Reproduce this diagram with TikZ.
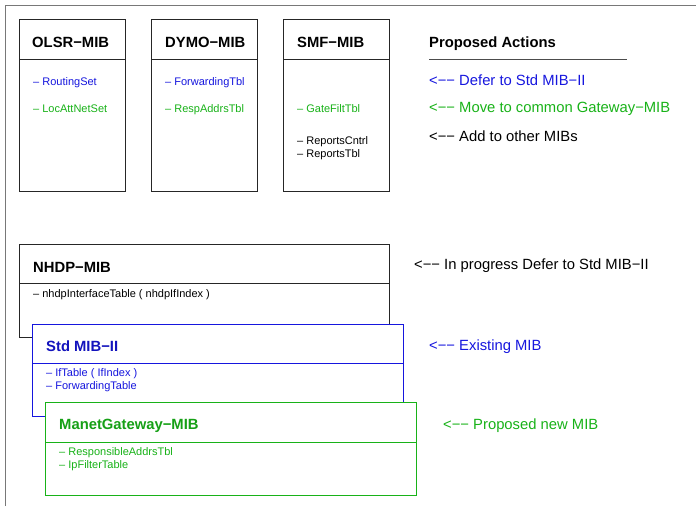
\documentclass[tikz,border=0pt]{standalone}
\usepackage{fontspec}
\setmainfont{Liberation Sans}
\usetikzlibrary{
    positioning,              % Required for relative placement
    calc                      % Required for coordinate calculations
}
\definecolor{mibblue}{RGB}{22,22,222}
\definecolor{mibgreen}{RGB}{24,178,24}
\definecolor{framegray}{RGB}{120,120,120}

\begin{document}
\begin{tikzpicture}[
        x=1pt, y=-1pt,
        % Styles
        mibbox/.style={draw=black!85, line width=0.8pt, fill=white, rectangle, anchor=north west, inner sep=0pt, minimum width=106pt, minimum height=172pt},
        widebox/.style={mibbox, minimum width=371pt, minimum height=93pt},
        title/.style={anchor=base west, inner sep=0pt, font=\fontsize{14.8}{17}\selectfont\bfseries},
        entry/.style={anchor=base west, inner sep=0pt, font=\fontsize{11}{13}\selectfont},
        action/.style={anchor=base west, inner sep=0pt, font=\fontsize{14.8}{17}\selectfont}
    ]

    \useasboundingbox (0,0) rectangle (696,506);

    % --- Frame ---
    \draw[framegray, line width=1.4pt] (5.5,506) -- (5.5,5.5) -- (696,5.5);

    % --- 1. Routing protocol MIBs ---
    \node[mibbox] (olsr) at (19,19) {};
    \node[mibbox] (dymo) at (151,19) {};
    \node[mibbox] (smf)  at (283,19) {};
    \foreach \b in {olsr, dymo, smf}
        \draw[black!85, line width=0.8pt] ([yshift=-40pt]\b.north west) -- ([yshift=-40pt]\b.north east);

    \node[title] (olsrT) at (32,47)  {OLSR−MIB};
    \node[title] (dymoT) at (165,47) {DYMO−MIB};
    \node[title] (smfT)  at (297,47) {SMF−MIB};

    \node[entry, mibblue]  (olsrA) at (33,85)  {– RoutingSet};
    \node[entry, mibgreen] (olsrB) at (33,112) {– LocAttNetSet};
    \node[entry, mibblue]  (dymoA) at (165,85)  {– ForwardingTbl};
    \node[entry, mibgreen] (dymoB) at (165,112) {– RespAddrsTbl};
    \node[entry, mibgreen] (smfA)  at (297,112) {– GateFiltTbl};
    \node[entry]           (smfB)  at (297,144) {– ReportsCntrl};
    \node[entry]           (smfC)  at (297,157) {– ReportsTbl};

    % --- 2. Legend ---
    \node[title] (legend) at (429,47) {Proposed Actions};
    \draw[black!70, line width=0.8pt] (429,59) -- (627,59);
    \node[action, mibblue]  (defer) at (429,85)  {<−− Defer to Std MIB−II};
    \node[action, mibgreen] (move)  at (429,112) {<−− Move to common Gateway−MIB};
    \node[action]           (add)   at (429,141) {<−− Add to other MIBs};

    % --- 3. Stacked MIBs (drawn back to front) ---
    \node[widebox, minimum width=370pt] (nhdp) at (19,244) {};
    \draw[black!85, line width=0.8pt] ([yshift=-39pt]nhdp.north west) -- ([yshift=-39pt]nhdp.north east);
    \node[title] (nhdpT) at (33,272) {NHDP−MIB};
    \node[entry] (nhdpA) at (33,297) {– nhdpInterfaceTable ( nhdpIfIndex )};

    \node[widebox, draw=mibblue, minimum height=92pt] (std) at (32,324) {};
    \draw[mibblue, line width=0.8pt] ([yshift=-39pt]std.north west) -- ([yshift=-39pt]std.north east);
    \node[title, mibblue!85!black] (stdT) at (46,351) {Std MIB−II};
    \node[entry, mibblue] (stdA) at (46,376) {– IfTable ( IfIndex )};
    \node[entry, mibblue] (stdB) at (46,389) {– ForwardingTable};

    \node[widebox, draw=mibgreen] (gw) at (45,402) {};
    \draw[mibgreen, line width=0.8pt] ([yshift=-40pt]gw.north west) -- ([yshift=-40pt]gw.north east);
    \node[title, mibgreen!90!black] (gwT) at (59,429) {ManetGateway−MIB};
    \node[entry, mibgreen] (gwA) at (59,455) {– ResponsibleAddrsTbl};
    \node[entry, mibgreen] (gwB) at (59,468) {– IpFilterTable};

    % --- 4. Notes ---
    \node[action]           (prog)  at (414,269) {<−− In progress Defer to Std MIB−II};
    \node[action, mibblue]  (exist) at (429,350) {<−− Existing MIB};
    \node[action, mibgreen] (new)   at (443,429) {<−− Proposed new MIB};

\end{tikzpicture}
\end{document}
